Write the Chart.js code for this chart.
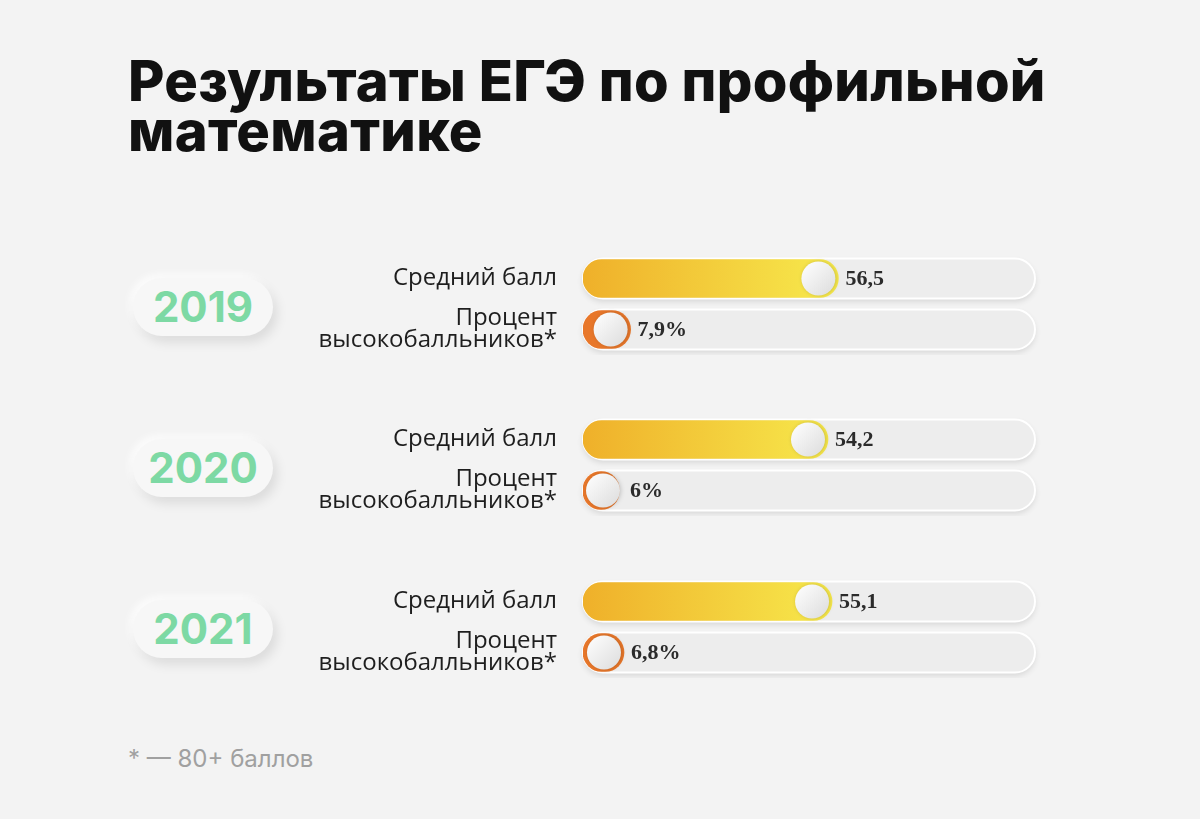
<!DOCTYPE html>
<html><head><meta charset="utf-8">
<script src="https://cdn.jsdelivr.net/npm/chart.js@4/dist/chart.umd.min.js"></script>
<style>
body{margin:0;width:1200px;height:819px;background:#f3f3f3;font-family:Inter,"Open Sans",sans-serif;position:relative;overflow:hidden}
h1{position:absolute;left:128px;top:56px;margin:0;font-size:56px;line-height:50px;font-weight:800;color:#111;letter-spacing:0.3px}
.pill{position:absolute;left:133px;width:140px;height:58px;border-radius:29px;background:#f7f7f7;box-shadow:4px 6px 12px rgba(0,0,0,0.10),-3px -3px 8px rgba(255,255,255,0.9);color:#7dd9a4;font-weight:700;font-size:42px;text-align:center;line-height:58px}
.foot{position:absolute;left:128px;top:744px;font-size:24px;color:#a0a0a0}
canvas{position:absolute;left:270px}
</style></head><body>
<h1>Результаты ЕГЭ по профильной<br>математике</h1>
<div class="pill" style="top:278px">2019</div>
<div class="pill" style="top:439px">2020</div>
<div class="pill" style="top:600px">2021</div>
<div class="foot">* — 80+ баллов</div>
<canvas id="c0" width="780" height="102" style="top:253px"></canvas>
<canvas id="c1" width="780" height="102" style="top:414px"></canvas>
<canvas id="c2" width="780" height="102" style="top:576px"></canvas>
<script>
const years = ['2019', '2020', '2021'];
const rowLabels = [['Средний балл'], ['Процент', 'высокобалльников*']];
const avgScore = [56.5, 54.2, 55.1];
const highPct = [7.9, 6, 6.8];
const scoreText = ['56,5', '54,2', '55,1'];
const pctText = ['7,9%', '6%', '6,8%'];

function rr(ctx, x, y, w, h, r) {
  ctx.beginPath();
  ctx.roundRect(x, y, w, h, r);
}

function makeChart(i) {
  const knobPlugin = {
    id: 'knobs',
    beforeDatasetsDraw(chart) {
      const ctx = chart.ctx, a = chart.chartArea, y = chart.scales.y;
      [0, 1].forEach(r => {
        const cy = y.getPixelForValue(r);
        ctx.save();
        ctx.shadowColor = 'rgba(0,0,0,0.12)';
        ctx.shadowBlur = 6; ctx.shadowOffsetY = 3;
        rr(ctx, a.left, cy - 20, a.right - a.left, 40, 20);
        ctx.fillStyle = '#ededed'; ctx.fill();
        ctx.restore();
        ctx.save();
        rr(ctx, a.left, cy - 20, a.right - a.left, 40, 20);
        ctx.strokeStyle = '#ffffff'; ctx.lineWidth = 2; ctx.stroke();
        ctx.restore();
        // left labels, right aligned a bit before the track
        ctx.fillStyle = '#1e1e1e';
        ctx.font = '24px "Open Sans"';
        ctx.textAlign = 'right'; ctx.textBaseline = 'middle';
        const lines = rowLabels[r];
        lines.forEach((t, k) => ctx.fillText(t, a.left - 26, cy + (k - (lines.length - 1) / 2) * 22));
      });
    },
    afterDatasetsDraw(chart) {
      const ctx = chart.ctx, a = chart.chartArea;
      chart.data.datasets.forEach((ds, d) => {
        const el = chart.getDatasetMeta(d).data[d];
        const cx = Math.max(el.x, a.left + 40) - 20;
        const cy = el.y;
        ctx.save();
        ctx.shadowColor = 'rgba(0,0,0,0.18)'; ctx.shadowBlur = 4; ctx.shadowOffsetX = 1;
        ctx.beginPath(); ctx.arc(cx, cy, 17, 0, Math.PI * 2);
        const g = ctx.createLinearGradient(cx - 17, cy - 17, cx + 17, cy + 17);
        g.addColorStop(0, '#ffffff'); g.addColorStop(1, '#dcdcdc');
        ctx.fillStyle = g; ctx.fill();
        ctx.restore();
        ctx.fillStyle = '#2b2b2b';
        ctx.font = 'bold 22px "Liberation Sans Narrow"';
        ctx.textAlign = 'left'; ctx.textBaseline = 'middle';
        ctx.fillText(d === 0 ? scoreText[i] : pctText[i], cx + 27, cy + 1);
      });
    }
  };
  new Chart(document.getElementById('c' + i), {
    type: 'bar',
    data: {
      labels: ['a', 'b'],
      datasets: [
        {data: [avgScore[i], null], xAxisID: 'x',
         backgroundColor: c => {
           const a = c.chart.chartArea; if (!a) return '#f2c230';
           const g = c.chart.ctx.createLinearGradient(a.left, 0, a.left + 250, 0);
           g.addColorStop(0, '#efb02a'); g.addColorStop(1, '#f7e94c'); return g;
         }},
        {data: [null, highPct[i]], xAxisID: 'x2', backgroundColor: '#e8772a'}
      ]
    },
    options: {
      indexAxis: 'y', responsive: false, animation: false,
      layout: {padding: {left: 313, right: 15, top: 0, bottom: 0}},
      datasets: {bar: {barThickness: 38, borderRadius: 19, borderSkipped: false, grouped: false}},
      scales: {
        x: {min: 0, max: 100, display: false},
        x2: {min: 0, max: 75, display: false},
        y: {display: false}
      },
      plugins: {legend: {display: false}, tooltip: {enabled: false}}
    },
    plugins: [knobPlugin]
  });
}
years.forEach((y, i) => makeChart(i));
</script>
</body></html>
